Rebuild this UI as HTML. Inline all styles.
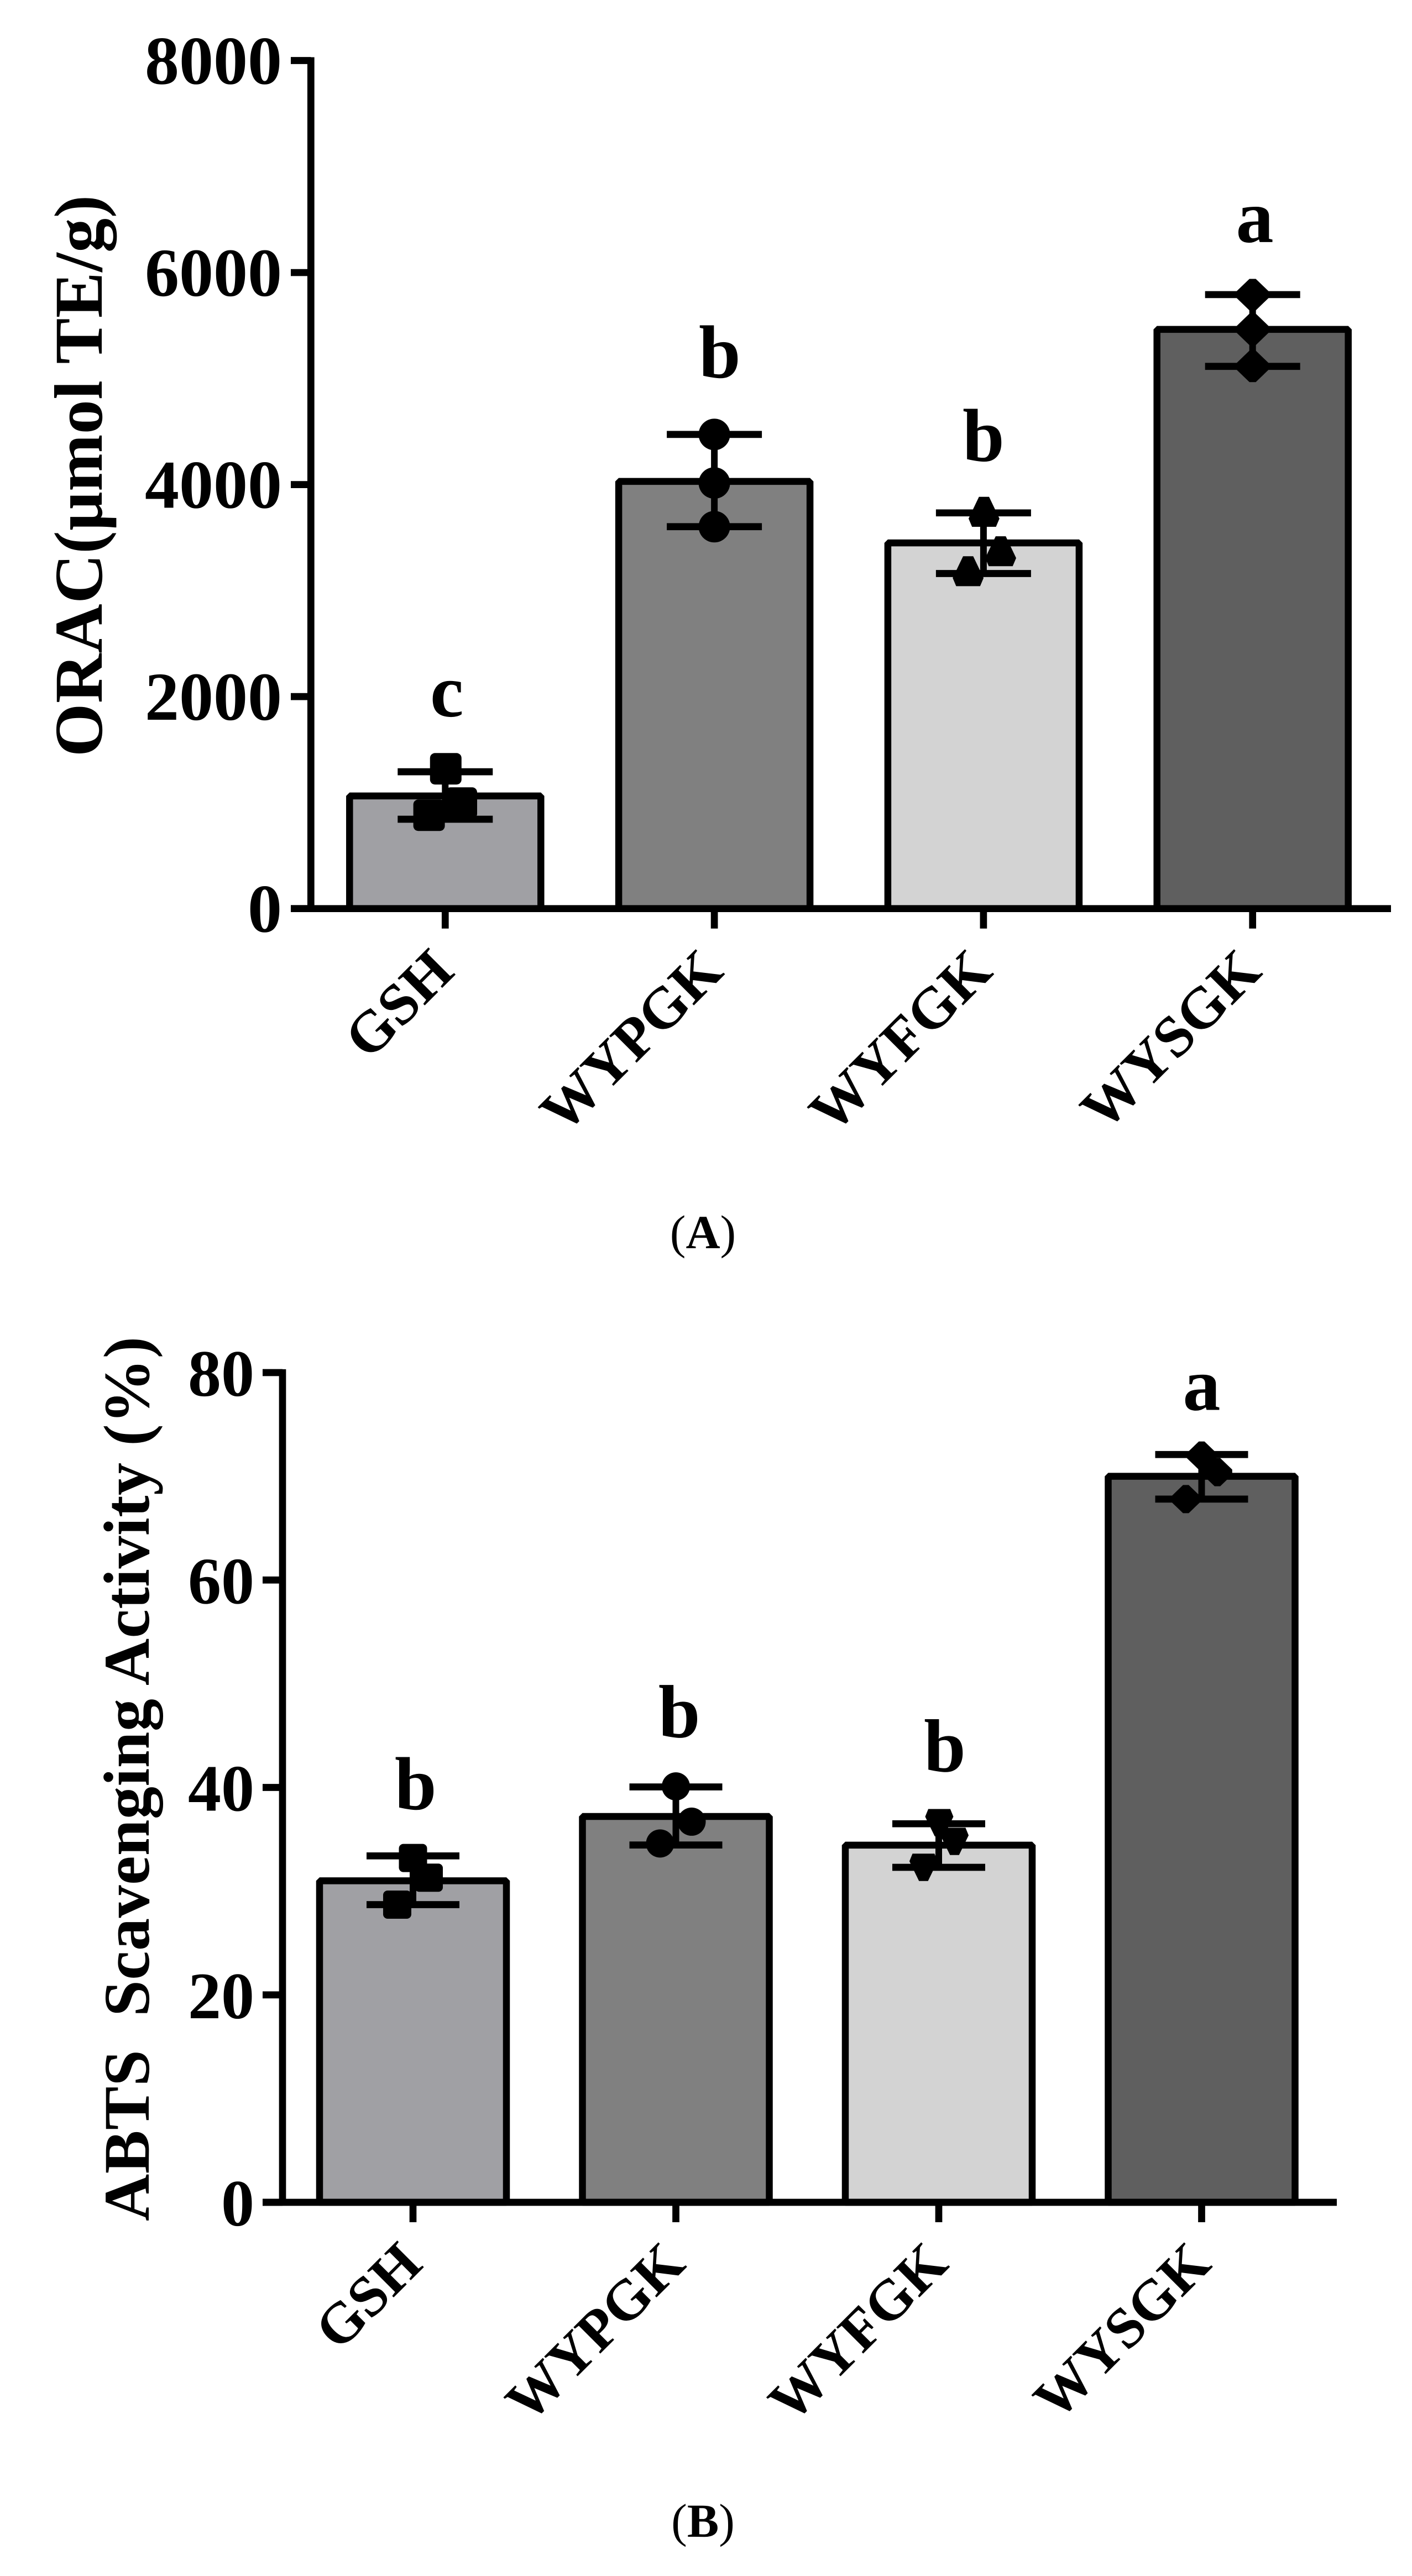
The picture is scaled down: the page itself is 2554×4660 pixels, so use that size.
<!DOCTYPE html>
<html lang="en">
<head>
<meta charset="utf-8">
<title>ORAC and ABTS antioxidant activity of GSH and peptides</title>
<style>
html,body{margin:0;padding:0;background:#fff;}
#figure{display:block;width:2554px;height:4660px;background:#fff;}
text{font-family:"Liberation Serif","DejaVu Serif",serif;font-weight:700;fill:#000;white-space:pre;text-rendering:geometricPrecision;}
</style>
</head>
<body>
<svg id="figure" xmlns="http://www.w3.org/2000/svg" width="2554" height="4660" viewBox="0 0 2554 4660"></svg>
<script>
// ---------- Panel A data (ORAC) ----------
const categoriesA = ['GSH', 'WYPGK', 'WYFGK', 'WYSGK'];
const meansA = [1063, 4030, 3450, 5464];
const errorHighA = [1291, 4473, 3733, 5792];
const errorLowA = [843, 3603, 3161, 5115];
const pointValuesA = [[1319, 996, 881], [4473, 4015, 3603], [3743, 3371, 3183], [5792, 5464, 5115]];
const pointJitterA = [[0.002, 0.06, -0.06], [0, 0, 0], [0.002, 0.064, -0.057], [0, 0, 0]];
const significanceA = ['c', 'b', 'b', 'a'];
const significanceLevelA = [1814, 5010, 4223, 6288];
const significanceShiftA = [0.006, 0.02, 0, 0.008];
const ticksA = [0, 2000, 4000, 6000, 8000];

// ---------- Panel B data (ABTS) ----------
const categoriesB = ['GSH', 'WYPGK', 'WYFGK', 'WYSGK'];
const meansB = [31.0, 37.2, 34.44, 70.0];
const errorHighB = [33.4, 40.05, 36.5, 72.1];
const errorLowB = [28.7, 34.45, 32.3, 67.8];
const pointValuesB = [[33.2, 31.3, 28.7], [40.1, 36.7, 34.6], [36.6, 34.8, 32.3], [72.0, 70.4, 67.8]];
const pointJitterB = [[0, 0.06, -0.06], [0, 0.06, -0.06], [0.002, 0.06, -0.058], [0, 0.06, -0.06]];
const significanceB = ['b', 'b', 'b', 'a'];
const significanceLevelB = [37.9, 44.85, 41.55, 76.4];
const significanceShiftB = [0.01, 0.013, 0.023, 0];
const ticksB = [0, 20, 40, 60, 80];

// ---------- Shared styling ----------
const barFills = ['#a0a0a4', '#808080', '#d3d3d3', '#5f5f5f'];
const markerKinds = ['square', 'circle', 'triangle', 'diamond'];

const SVG_NS = 'http://www.w3.org/2000/svg';
const svg = document.getElementById('figure');

function add(parent, tag, name, attrs, txt) {
  const el = document.createElementNS(SVG_NS, tag);
  for (const k in attrs) el.setAttribute(k, attrs[k]);
  
  
  if (txt !== undefined) el.textContent = txt;
  parent.appendChild(el);
  return el;
}

function line(parent, name, x1, y1, x2, y2, w) {
  return add(parent, 'line', name, {x1: x1, y1: y1, x2: x2, y2: y2, stroke: '#000', 'stroke-width': w});
}

function marker(parent, name, kind, cx, cy, s) {
  if (kind === 'circle') {
    return add(parent, 'circle', name, {cx: cx, cy: cy, r: s, fill: '#000'});
  }
  if (kind === 'square') {
    return add(parent, 'rect', name, {x: cx - s, y: cy - s, width: 2 * s, height: 2 * s, rx: s * 0.32, fill: '#000'});
  }
  let shape;
  if (kind === 'triangle') {
    shape = [[-.32, -.95], [.32, -.95], [.98, .43], [.76, .95], [-.76, .95], [-.98, .43]];
  } else if (kind === 'triangleDown') {
    shape = [[-.32, .97], [.32, .97], [1, -.43], [.78, -.97], [-.78, -.97], [-1, -.43]];
  } else {
    shape = [[-.2, -1], [.2, -1], [1.05, -.18], [1.05, .18], [.2, 1], [-.2, 1], [-1.05, .18], [-1.05, -.18]];
  }
  const pts = shape.map(function (p) { return (cx + p[0] * s) + ',' + (cy + p[1] * s); }).join(' ');
  return add(parent, 'polygon', name, {points: pts, fill: '#000'});
}

function drawPanel(cfg) {
  const g = add(svg, 'g', cfg.id, {});
  const yScale = function (v) { return cfg.y0 - (v / cfg.yMax) * (cfg.y0 - cfg.yTop); };
  const xScale = function (i) { return cfg.x0 + i * cfg.step; };

  // bars
  cfg.categories.forEach(function (c, i) {
    const cx = xScale(i);
    const key = c.toLowerCase();
    add(g, 'rect', 'bar-' + key, {
      x: cx - cfg.barWidth / 2, y: yScale(cfg.means[i]),
      width: cfg.barWidth, height: cfg.y0 - yScale(cfg.means[i]),
      fill: barFills[i], stroke: '#000', 'stroke-width': 12.5, 'stroke-linejoin': 'bevel'
    });
  });

  // axes
  line(g, 'y-axis-line', cfg.axisX, yScale(cfg.yMax) - 6, cfg.axisX, cfg.y0 + 6, 12.7);
  line(g, 'x-axis-line', cfg.tickLeft, cfg.y0, cfg.axisRight, cfg.y0, 12.7);

  // y ticks
  cfg.ticks.forEach(function (t) {
    const y = yScale(t);
    line(g, 'y-tick-' + t, cfg.tickLeft, y, cfg.axisX, y, 12.7);
    add(g, 'text', 'y-tick-label-' + t, {
      x: cfg.labelRight, y: y + 42, 'text-anchor': 'end', 'font-size': cfg.tickFont
    }, String(t));
  });

  // categories
  cfg.categories.forEach(function (c, i) {
    const cx = xScale(i);
    const key = c.toLowerCase();
    line(g, 'x-tick-' + key, cx, cfg.y0, cx, cfg.y0 + 36, 12.7);
    const lx = cx + cfg.catDx;
    const ly = cfg.y0 + cfg.catDy;
    add(g, 'text', 'x-label-' + key, {
      x: lx, y: ly, 'text-anchor': 'end', 'font-size': cfg.catFont,
      transform: 'rotate(-45 ' + lx + ' ' + ly + ')'
    }, c);

    // points
    cfg.points[i].forEach(function (v, j) {
      const kind = (cfg.downTriangle && markerKinds[i] === 'triangle') ? 'triangleDown' : markerKinds[i];
      marker(g, 'point-' + key + '-' + (j + 1), kind, cx + cfg.jitter[i][j] * cfg.step, yScale(v), cfg.markerSize);
    });

    // error bars
    const hi = yScale(cfg.errHigh[i]);
    const lo = yScale(cfg.errLow[i]);
    line(g, 'error-stem-' + key, cx, hi, cx, lo, 12);
    line(g, 'error-cap-high-' + key, cx - cfg.capHalf, hi, cx + cfg.capHalf, hi, 12.7);
    line(g, 'error-cap-low-' + key, cx - cfg.capHalf, lo, cx + cfg.capHalf, lo, 12.7);

    // significance letter
    add(g, 'text', 'significance-letter-' + key, {
      x: cx + cfg.sigShift[i] * cfg.step, y: yScale(cfg.sigLevel[i]),
      'text-anchor': 'middle', 'font-size': 136
    }, cfg.sig[i]);
  });

  // y axis title
  add(g, 'text', 'y-axis-title', {
    x: 0, y: 0, 'text-anchor': 'middle', 'font-size': cfg.titleFont,
    transform: 'translate(' + cfg.titleX + ' ' + cfg.titleY + ') rotate(-90)',
    textLength: cfg.titleLen, lengthAdjust: 'spacing'
  }, cfg.title);

  // caption
  const cap = add(svg, 'text', cfg.id + '-caption', {
    x: 1271.5, y: cfg.captionY, 'text-anchor': 'middle', 'font-size': 86
  });
  add(cap, 'tspan', 'caption-open-paren', {style: 'font-weight:400'}, '(');
  add(cap, 'tspan', 'caption-letter', {}, cfg.captionLetter);
  add(cap, 'tspan', 'caption-close-paren', {style: 'font-weight:400'}, ')');
}

drawPanel({
  id: 'panel-a-orac-chart',
  categories: categoriesA, means: meansA, errHigh: errorHighA, errLow: errorLowA,
  points: pointValuesA, jitter: pointJitterA, sig: significanceA,
  sigLevel: significanceLevelA, sigShift: significanceShiftA, ticks: ticksA,
  yMax: 8000, y0: 1643.7, yTop: 109.5,
  x0: 805.3, step: 486.8, barWidth: 346,
  axisX: 562.3, tickLeft: 526, axisRight: 2516, labelRight: 510, tickFont: 124,
  catDx: 20, catDy: 118, catFont: 106,
  markerSize: 28.5, capHalf: 86,
  title: 'ORAC(\u03bcmol TE/g)', titleFont: 124, titleX: 184, titleY: 861, titleLen: 1016,
  captionY: 2258, captionLetter: 'A', downTriangle: false
});

drawPanel({
  id: 'panel-b-abts-chart',
  categories: categoriesB, means: meansB, errHigh: errorHighB, errLow: errorLowB,
  points: pointValuesB, jitter: pointJitterB, sig: significanceB,
  sigLevel: significanceLevelB, sigShift: significanceShiftB, ticks: ticksB,
  yMax: 80, y0: 3984, yTop: 2483,
  x0: 747, step: 475.5, barWidth: 338,
  axisX: 511, tickLeft: 475, axisRight: 2418, labelRight: 460, tickFont: 120,
  catDx: 21, catDy: 116, catFont: 104,
  markerSize: 25.5, capHalf: 84,
  title: 'ABTS  Scavenging Activity (%)', titleFont: 118, titleX: 269, titleY: 3218, titleLen: 1600,
  captionY: 4589, captionLetter: 'B', downTriangle: true
});
</script>
</body>
</html>
